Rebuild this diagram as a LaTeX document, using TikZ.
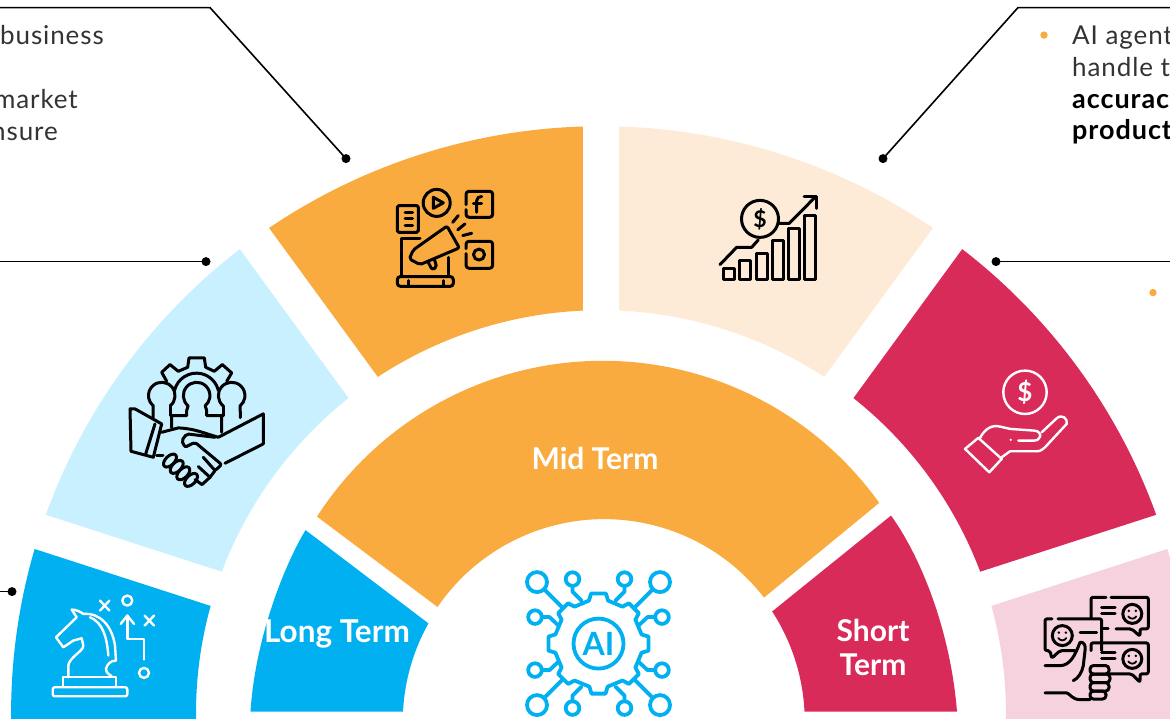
\documentclass[tikz,border=0pt]{standalone}
\usepackage{fontspec}
\setmainfont{Lato}
\newfontfamily\widefont[LetterSpace=3.5]{Lato}
\usepackage{xcolor}
\usetikzlibrary{calc}

\definecolor{ringblue}{HTML}{00B0F0}
\definecolor{ringsky}{HTML}{C9F0FF}
\definecolor{ringorange}{HTML}{F9AB40}
\definecolor{ringcream}{HTML}{FDEBD7}
\definecolor{ringred}{HTML}{D92B5A}
\definecolor{ringpink}{HTML}{F5D2DE}

\tikzset{
	blackicon/.style = {draw = black, line width = 3pt, line join = round, line cap = round},
	whiteicon/.style = {draw = white, line width = 2.4pt, line join = round, line cap = round},
	blueicon/.style = {draw = ringblue, line width = 3.8pt, line join = round, line cap = round},
	leader/.style = {draw = black, line width = 1.6pt},
	callout/.style = {font = \fontsize{26}{32}\widefont\selectfont, text = black!80, inner sep = 0pt},
	boldcallout/.style = {font = \fontsize{27}{32}\widefont\bfseries\selectfont, text = black, inner sep = 0pt},
	termlabel/.style = {font = \fontsize{30}{34}\selectfont\bfseries, text = white, inner sep = 0pt},
}

\newcommand{\ringsector}[3]{
	\pgfmathsetmacro{\outa}{-(#2+asin(\gap/\Rout))}
	\pgfmathsetmacro{\outb}{-(#3-asin(\gap/\Rout))}
	\pgfmathsetmacro{\ina}{-(#3-asin(\gap/\Rin))}
	\pgfmathsetmacro{\inb}{-(#2+asin(\gap/\Rin))}
	\fill [#1] ($(ring centre)+(\outa:\Rout)$) arc [start angle = \outa, end angle = \outb, radius = \Rout]
		-- ($(ring centre)+(\ina:\Rin)$) arc [start angle = \ina, end angle = \inb, radius = \Rin] -- cycle;
}

\begin{document}
\begin{tikzpicture}[x = 1pt, y = 1pt, shift = {(0,719)}, yscale = -1]
	\path [use as bounding box, clip] (0,-0.6) rectangle (1170,718.4);
	\def\Rout{587};
	\def\Rin{403};
	\def\gap{18};
	
	%outer ring
	\begin{scope}[shift = {(601,0)}, xscale = 1.005]
		\coordinate (ring centre) at (0,712.6);
		\ringsector{ringblue}{162}{190}
		\ringsector{ringsky}{126}{162}
		\ringsector{ringorange}{90}{126}
		\ringsector{ringcream}{54}{90}
		\ringsector{ringred}{18}{54}
		\ringsector{ringpink}{-10}{18}
	\end{scope}
	
	%inner ring
	\fill [ringorange] (317,516) arc [start angle = -147.2, end angle = -35.6, radius = 340]
		-- (764,597) arc [start angle = -37.7, end angle = -145.6, radius = 202] -- cycle;
	\fill [ringblue] (305.5,529.5) .. controls (283,567) and (255,640) .. (250.5,711)
		-- (403,711) arc [start angle = -177.1, end angle = -150.7, radius = 201] -- cycle;
	\fill [ringred] (891,515) .. controls (918,552) and (950,625) .. (957,711)
		-- (804.5,711) arc [start angle = -2.8, end angle = -33, radius = 202] -- cycle;
	
	\node [termlabel] (mid term) at (595,458) {Mid Term};
	\node [termlabel, font = \fontsize{31.5}{34}\selectfont\bfseries] (long term) at (337,633) {Long Term};
	\node [termlabel, align = center] (short term) at (873,647) {Short\\Term};
	
	%leaders
	\coordinate (top left end) at (0,7);
	\coordinate (top left bend) at (210,7);
	\coordinate (top left dot) at (346,158);
	\coordinate (top right end) at (1170,7);
	\coordinate (top right bend) at (1018,7);
	\coordinate (top right dot) at (883,158);
	\coordinate (mid left end) at (0,261);
	\coordinate (mid left dot) at (206,261);
	\coordinate (mid right end) at (1170,261);
	\coordinate (mid right dot) at (996,261);
	\coordinate (low left end) at (0,591);
	\coordinate (low left dot) at (12,591);
	
	\draw [leader] (top left end) -- (top left bend) -- (top left dot);
	\draw [leader] (top right end) -- (top right bend) -- (top right dot);
	\draw [leader] (mid left end) -- (mid left dot);
	\draw [leader] (mid right end) -- (mid right dot);
	\draw [leader] (low left end) -- (low left dot);
	\foreach \d in {top left dot, top right dot, mid left dot, mid right dot, low left dot}
		\fill (\d) circle [radius = 4.5];
	
	%callout text
	\node [callout, anchor = base east] (left one) at (104,44) {business};
	\node [callout, anchor = base east] (left two) at (78,107.5) {market};
	\node [callout, anchor = base east] (left three) at (58,139.5) {nsure};
	
	\fill [ringorange] (1044,34.5) circle [radius = 3.7];
	\fill [ringorange] (1153,292) circle [radius = 3.7];
	\node [callout, anchor = base west] (right one) at (1072,44) {AI agent};
	\node [callout, anchor = base west] (right two) at (1072,76) {handle t};
	\node [boldcallout, anchor = base west] (right three) at (1072,107.5) {accurac};
	\node [boldcallout, anchor = base west] (right four) at (1072,139) {product};
	
	%marketing icon
	\draw [blackicon, rounded corners = 1.5pt] (397.3,205) rectangle (418.3,231.7);
	\foreach \y in {211.7, 218.3, 225}
		\draw [blackicon] (405,\y) -- (412.7,\y);
	\draw [blackicon] (436.7,202.3) circle [radius = 13.5];
	\draw [blackicon] (433.3,196.7) -- (433.3,207.7) -- (443.3,202.3) -- cycle;
	\draw [blackicon, rounded corners = 3pt] (466,204) -- (466,190.7) -- (492.7,190.7) -- (492.7,216.7) -- (466,216.7) -- (466,209);
	\draw [blackicon] (476.7,211.7) -- (476.7,200) .. controls (476.7,197) and (479,196) .. (481.7,196);
	\draw [blackicon] (473.3,203.3) -- (481.7,203.3);
	\draw [blackicon, rounded corners = 3pt] (466,248) -- (466,240.7) -- (492.7,240.7) -- (492.7,267.7) -- (466,267.7) -- (466,253);
	\draw [blackicon] (479,254) circle [radius = 5.5];
	\draw [blackicon] (452.7,221.7) -- (458.3,215);
	\draw [blackicon] (457.7,229.3) -- (465,223.3);
	\draw [blackicon] (462.7,235) -- (471.7,232.7);
	\draw [blackicon, rounded corners = 2pt] (413.3,249.3) -- (447,225.5) -- (459.3,247.3) -- (420,264) -- (409.3,258.3) -- cycle;
	\draw [blackicon, rounded corners = 2pt] (428.3,261.7) -- (432,269) -- (436.7,266.7) -- (434.5,259);
	\draw [blackicon] (420,238.3) -- (401.7,238.3) -- (401.7,275);
	\draw [blackicon] (448.3,256.7) -- (448.3,275);
	\draw [blackicon, rounded corners = 3pt] (397.3,276) -- (453.3,276) -- (453.3,285.7) -- (397.3,285.7) -- cycle;
	\draw [blackicon] (408.3,280) -- (408.3,285.7);
	\draw [blackicon] (443.3,280) -- (443.3,285.7);
	
	%chart icon
	\foreach \l/\r/\t in {723.3/734.3/267.7, 739.3/750.7/260, 756.7/767.3/253.3, 772.7/783.3/240, 788.3/799.3/228.3, 804.3/815.7/215}
		\draw [blackicon] (\l,\t) rectangle (\r,278.7);
	\draw [blackicon] (760,218.3) circle [radius = 18.5];
	\node [font = \fontsize{23}{23}\selectfont\bfseries, inner sep = 0pt] (chart dollar) at (760,218.3) {\$};
	\draw [blackicon] (720,264) -- (736.7,246.7) -- (751.7,246.7) -- (758.3,239.3);
	\draw [blackicon] (779.3,222.7) -- (789.3,222.7) -- (815,196.7);
	\draw [blackicon] (804,195.7) -- (816,195.7) -- (816,207.7);
	
	%handshake icon
	\draw [blackicon] (166.7,380.7) -- (161.7,371.7) -- (170,364) -- (178.3,370.7) -- (187.7,366.7) -- (189,357.3) -- (204.3,357.3) -- (205.7,366.7) -- (214.3,370.7) -- (222.3,364) -- (231.7,372.3) -- (226.7,380.7);
	\draw [blackicon] (174.5,390) arc [start angle = 193, end angle = 347, radius = 22.5];
	\draw [blackicon] (171.7,427) -- (171.7,415) -- (186.7,415) -- (186.7,410) -- (188.1,405.2) arc [start angle = 130, end angle = 410, radius = 13.3] -- (206.7,410) -- (206.7,415) -- (221.7,415) -- (221.7,431.7);
	\draw [blackicon] (170.3,405.2) arc [start angle = 50, end angle = -230, radius = 13.3] -- (153,417);
	\draw [blackicon] (170.3,405.2) -- (170.3,415);
	\draw [blackicon] (223.1,405.2) arc [start angle = 130, end angle = 410, radius = 13.3] -- (240.3,417);
	\draw [blackicon] (223.1,405.2) -- (223.1,415);
	\draw [blackicon] (130,408.3) -- (135,408.3) -- (161.7,423.3) -- (153.3,456.7) -- (131,450.7) -- cycle;
	\draw [blackicon] (155,423.3) -- (145.7,453.3);
	\draw [blackicon] (263.3,413.3) -- (263.3,443.3) -- (225,462.7);
	\draw [blackicon] (263.3,413.3) -- (218.3,436.7) .. controls (205,433) and (195,428) .. (178.3,427.3) -- (161.7,431.7);
	\draw [blackicon, rounded corners = 2pt] (215,436.7) -- (186.7,433.3) -- (181.7,440) -- (185,446.7) -- (195,441.7) -- (221.7,464) -- (215,470) -- (203.3,456.7);
	\draw [blackicon] (215,470) -- (210,476.7) -- (198.3,466);
	\draw [blackicon] (210,476.7) -- (202,484) -- (195,479);
	\draw [blackicon] (156.7,455) -- (163,455);
	\foreach \x/\y in {170/460, 176.7/466.3, 183.3/472.7, 191/479.3}
		\draw [blackicon] (\x,\y) circle [x radius = 8, y radius = 4.5, rotate = -45];
	
	%chess icon
	\draw [whiteicon] (68.3,676.7) -- (68.3,665) .. controls (69,657) and (84,650) .. (83.3,645) -- (81.7,637.7) -- (73.3,640) -- (63.3,646.7) -- (56,636.7) -- (76.7,616.7) -- (71.7,609) .. controls (76,609) and (80,611) .. (83.3,613.3) .. controls (100,612) and (112,625) .. (115,645) -- (116,660) .. controls (110,660) and (107,664) .. (106,668.3) .. controls (106,672) and (109,674) .. (111.7,675.7);
	\draw [whiteicon] (90,616.7) .. controls (103,622) and (107,637) .. (108.3,655);
	\draw [whiteicon] (62.7,685.7) -- (62.7,676.7) -- (116,676.7) -- (116,685.7);
	\draw [whiteicon, rounded corners = 2pt] (52.7,686.7) rectangle (127.3,695.7);
	\draw [whiteicon] (100,600) -- (109.4,610) (109.4,600) -- (100,610);
	\draw [whiteicon] (144.6,615) -- (154,625) (154,615) -- (144.6,625);
	\draw [whiteicon] (127.3,600) circle [radius = 5];
	\draw [whiteicon] (144,672.3) circle [radius = 5];
	\draw [whiteicon] (120.7,623.3) -- (127.3,615) -- (134,623.3);
	\draw [whiteicon] (127.3,615) -- (127.3,638.3) -- (144,638.3) -- (144,659);
	
	%coin hand icon
	\draw [whiteicon] (1025,391.7) circle [radius = 21.7];
	\node [font = \fontsize{26}{26}\selectfont\bfseries, text = white, inner sep = 0pt] (hand dollar) at (1025,392) {\$};
	\draw [whiteicon] (965,448.3) -- (978.3,437.3) -- (1001.7,458.3) -- (989.3,471.7) -- cycle;
	\draw [whiteicon] (980,437.3) .. controls (985,428) and (992,424) .. (1000,426) -- (1010,428.3) -- (1034,430) .. controls (1039,430) and (1041,434) .. (1040,436) .. controls (1038,440) and (1036,440) .. (1034,440) -- (1018.3,440);
	\draw [whiteicon] (1041.7,431.7) -- (1056.7,417.7) .. controls (1062,413) and (1068,418) .. (1066.7,423.3) -- (1045,446.7) .. controls (1041,450) and (1040,450.7) .. (1036,450.7) -- (1010,450.7) -- (1001.7,456.7);
	\fill [white] (1010.7,439.3) circle [radius = 1.3];
	
	%chat icon
	\draw [blackicon, rounded corners = 2pt] (1091,617) -- (1091,596.7) -- (1106,596.7);
	\draw [blackicon, rounded corners = 2pt] (1111,596.7) -- (1148.3,596.7) -- (1148.3,628.3) -- (1140,628.3) -- (1140,635.7) -- (1131.7,628.3) -- (1116,628.3);
	\draw [blackicon] (1108,628.3) -- (1102,628.3);
	\draw [blackicon] (1101.7,606.7) -- (1115,606.7);
	\draw [blackicon] (1101.7,613.3) -- (1115,613.3);
	\draw [blackicon] (1132.3,613.3) circle [radius = 9.5];
	\draw [blackicon, rounded corners = 2pt] (1091,650) -- (1091,642.3) -- (1148.3,642.3) -- (1148.3,673.3) -- (1140,673.3) -- (1140,681.7) -- (1131.7,673.3) -- (1110,673.3);
	\draw [blackicon] (1101.7,651.7) -- (1115,651.7);
	\draw [blackicon] (1101.7,658.3) -- (1115,658.3);
	\draw [blackicon] (1132.3,658.3) circle [radius = 9.5];
	\draw [blackicon, rounded corners = 2pt] (1075,650) -- (1060,650) -- (1051.7,657.7) -- (1050,650) -- (1045,650) -- (1045,618.3) -- (1052,618.3);
	\draw [blackicon, rounded corners = 2pt] (1058,618.3) -- (1101.7,618.3) -- (1101.7,650);
	\draw [blackicon] (1062.3,635) circle [radius = 10];
	\draw [blackicon] (1080,631.7) -- (1096.7,631.7);
	\foreach \cx/\cy in {1132.3/613.3, 1132.3/658.3, 1062.3/635} {
		\fill (\cx-3.5,\cy-3) circle [radius = 1.4];
		\fill (\cx+3.5,\cy-3) circle [radius = 1.4];
		\draw [line width = 1.8pt, line cap = round] (\cx-4,\cy+2.5) .. controls (\cx-2,\cy+5.5) and (\cx+2,\cy+5.5) .. (\cx+4,\cy+2.5);
	}
	\draw [blackicon] (1045,665) -- (1060,665) .. controls (1070,665) and (1075,655) .. (1080,641.7) .. controls (1084,641) and (1086,645) .. (1085,650) -- (1083.3,665) .. controls (1082,672) and (1078,678) .. (1073.3,680);
	\draw [blackicon, rounded corners = 3.5pt] (1090,665) rectangle (1109,673.5);
	\draw [blackicon, rounded corners = 3.5pt] (1090,673.5) rectangle (1110,682);
	\draw [blackicon, rounded corners = 3.5pt] (1090,682) rectangle (1109,690.5);
	\draw [blackicon, rounded corners = 3.5pt] (1090,690.5) rectangle (1106,698.5);
	\draw [blackicon] (1045,692.3) -- (1066.7,692.3) .. controls (1070,693) and (1072,699) .. (1080,699) -- (1090,699);
	
	%AI icon
	\begin{scope}[shift = {(598.5,643)}]
		\foreach \sx in {1,-1} \foreach \sy in {1,-1} {
			\begin{scope}[xscale = \sx, yscale = \sy]
				\draw [blueicon] (61.5,61.5) circle [radius = 10];
				\draw [blueicon] (26,64.5) circle [radius = 6.8];
				\draw [blueicon] (63.5,26.5) circle [radius = 6.8];
				\draw [blueicon] (54,54) -- (36,36);
				\draw [blueicon] (26,57.5) -- (26,52) -- (17,43);
				\draw [blueicon] (56.5,26.5) -- (49,26.5) -- (40,18);
			\end{scope}
		}
		\draw [blueicon] (-7.5,-50) -- (7.5,-50) -- (9.5,-43)
			\foreach \a in {45,90,135,180,225,270,315} {
				-- ({\a-90-12}:44) -- ({\a-90-8}:50.5) -- ({\a-90+8}:50.5) -- ({\a-90+12}:44)
			} -- (-9.5,-43) -- cycle;
		\draw [blueicon] (0,0) circle [radius = 25];
	\end{scope}
	\node [font = \fontsize{32}{32}\selectfont\bfseries, text = ringblue, inner sep = 0pt] (ai label) at (598.5,643) {AI};
\end{tikzpicture}
\end{document}
